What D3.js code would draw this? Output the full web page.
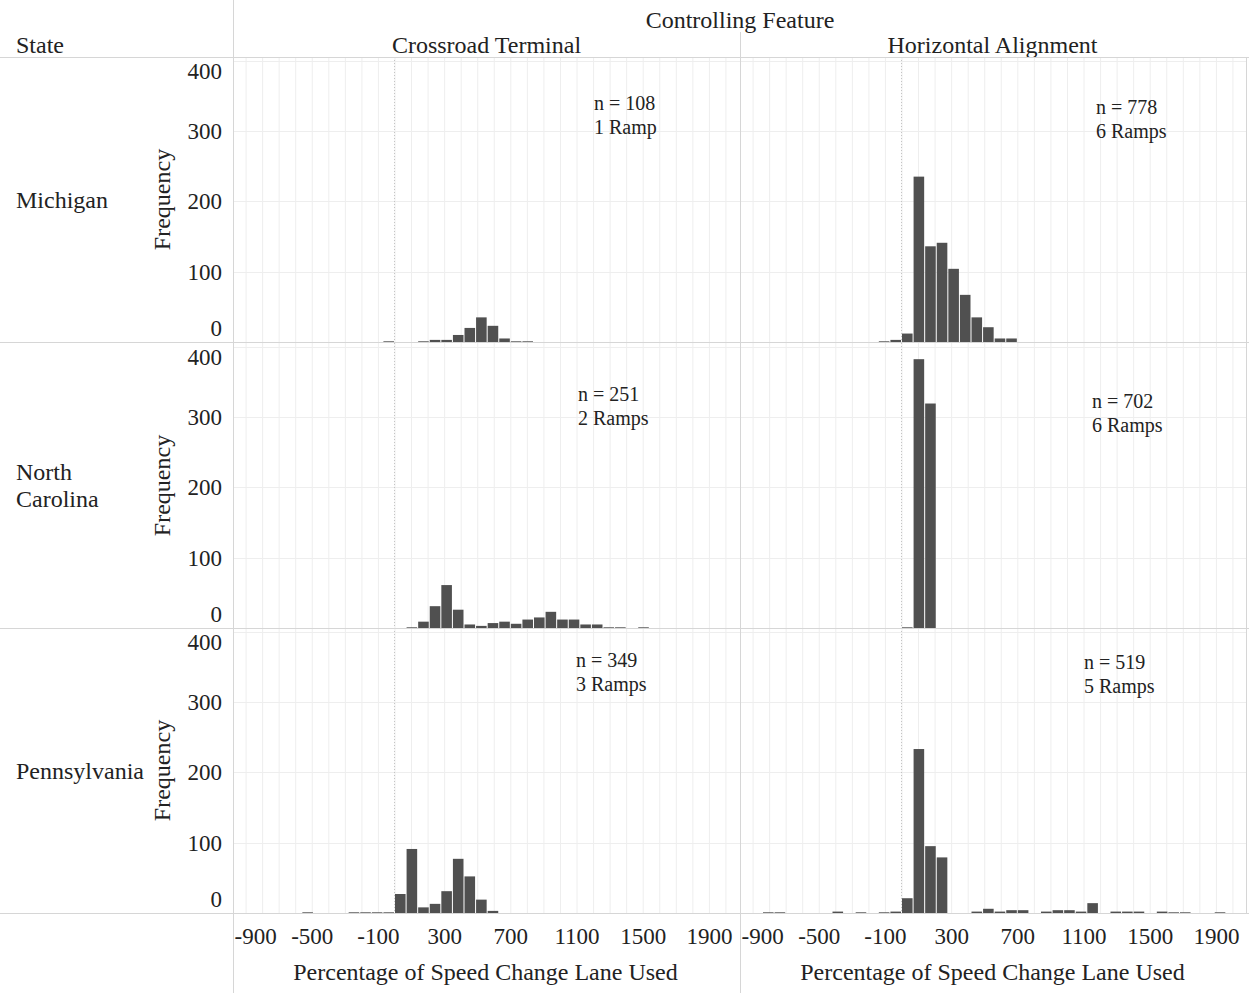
<!DOCTYPE html>
<html>
<head>
<meta charset="utf-8">
<script src="https://cdn.jsdelivr.net/npm/d3@7"></script>
<style>
  body { margin: 0; background: #fff; }
  text { font-family: "Liberation Serif", "Times New Roman", serif; fill: #222; }
</style>
</head>
<body>
<script>
// chart values
var states = ["Michigan", "North Carolina", "Pennsylvania"];
var features = ["Crossroad Terminal", "Horizontal Alignment"];
var binSize = 70;
var xTicks = [-900, -500, -100, 300, 700, 1100, 1500, 1900];
var yTicks = [0, 100, 200, 300, 400];

// [bin start (%), frequency]
var miCrossroad = [[-70,1],[140,1],[210,3],[280,3],[350,10],[420,20],[490,35],[560,23],[630,5],[700,1],[770,1]];
var miHorizontal = [[-140,1],[-70,3],[0,12],[70,235],[140,136],[210,141],[280,104],[350,67],[420,35],[490,21],[560,5],[630,5]];
var ncCrossroad = [[70,1],[140,9],[210,31],[280,61],[350,26],[420,5],[490,3],[560,7],[630,9],[700,6],[770,12],
  [840,15],[910,23],[980,12],[1050,12],[1120,5],[1190,5],[1260,1],[1330,1],[1470,1]];
var ncHorizontal = [[0,1],[70,382],[140,319]];
var paCrossroad = [[-560,1],[-280,1],[-210,1],[-140,1],[-70,1],[0,27],[70,91],[140,8],[210,13],[280,31],[350,77],[420,52],[490,19],[560,3]];
var paHorizontal = [[-840,1],[-770,1],[-420,2],[-280,1],[-140,1],[-70,2],[0,21],[70,233],[140,95],[210,79],[420,2],[490,6],[560,2],
  [630,4],[700,4],[840,2],[910,4],[980,4],[1050,2],[1120,14],[1260,2],[1330,2],[1400,2],[1540,2],[1610,1],[1680,1],[1890,1]];

var noteN = [108, 778, 251, 702, 349, 519];
var noteRamps = ["1 Ramp", "6 Ramps", "2 Ramps", "6 Ramps", "3 Ramps", "5 Ramps"];

var panels = [miCrossroad, miHorizontal, ncCrossroad, ncHorizontal, paCrossroad, paHorizontal];

// layout
var w = 1249, h = 993;
var paneX = [233, 740], paneW = 507;
var rowTop = [57, 343, 628], rowH = 285;
var notePos = [[361, 53], [356, 57], [345, 58], [352, 65], [343, 39], [344, 41]];
var lineColor = "#d6d6d6", gridColor = "#eeeeee";

var svg = d3.select("body").append("svg")
    .attr("width", w)
    .attr("height", h)

svg.append("rect").attr("width", w).attr("height", h).attr("fill", "#fff")

var xScale = d3.scaleLinear()
              .domain([-976, 2088])
              .range([0, paneW])

var yScale = d3.scaleLinear()
              .domain([0, 405])
              .range([rowH, 0])

// header
svg.append("text").text("Controlling Feature")
  .attr("x", 740).attr("y", 28).attr("text-anchor", "middle").style("font-size", "24px")
svg.append("text").text("State")
  .attr("x", 16).attr("y", 53).style("font-size", "24px")
features.forEach(function(f, c) {
  svg.append("text").text(f)
    .attr("x", paneX[c] + paneW / 2 - c).attr("y", 53)
    .attr("text-anchor", "middle").style("font-size", "24px")
})

states.forEach(function(s, r) {
  features.forEach(function(f, c) {
    var data = panels[r * 2 + c];
    var g = svg.append("g").attr("transform", "translate(" + paneX[c] + "," + rowTop[r] + ")");

    g.selectAll(".vgrid").data(d3.range(-900, 2001, 100)).enter().append("line")
      .attr("x1", function(d) { return xScale(d) + 0.5; })
      .attr("x2", function(d) { return xScale(d) + 0.5; })
      .attr("y1", 0).attr("y2", rowH)
      .attr("stroke", gridColor)

    g.selectAll(".hgrid").data(yTicks.slice(1)).enter().append("line")
      .attr("x1", 0).attr("x2", paneW)
      .attr("y1", function(d) { return Math.round(yScale(d)) + 0.5; })
      .attr("y2", function(d) { return Math.round(yScale(d)) + 0.5; })
      .attr("stroke", gridColor)

    // zero line
    g.append("line")
      .attr("x1", xScale(0)).attr("x2", xScale(0))
      .attr("y1", 0).attr("y2", rowH)
      .attr("stroke", "#c4c4c4").attr("stroke-dasharray", "1,2")

    g.selectAll("rect").data(data).enter().append("rect")
      .attr("x", function(d) { return xScale(d[0]) + 0.5; })
      .attr("width", function(d) { return xScale(d[0] + binSize) - xScale(d[0]) - 1; })
      .attr("y", function(d) { return yScale(d[1]); })
      .attr("height", function(d) { return rowH - yScale(d[1]); })
      .attr("fill", "#505050")

    var p = notePos[r * 2 + c];
    g.append("text").text("n = " + noteN[r * 2 + c])
      .attr("x", p[0]).attr("y", p[1]).style("font-size", "20px")
    g.append("text").text(noteRamps[r * 2 + c])
      .attr("x", p[0]).attr("y", p[1] + 24).style("font-size", "20px")
  })

  // y axis
  var yAxis = svg.append("g")
    .attr("transform", "translate(225," + rowTop[r] + ")")
    .call(d3.axisLeft(yScale).tickValues(yTicks).tickSize(0).tickPadding(3)
      .tickFormat(function(d) { return String(d); }))
  yAxis.select(".domain").remove()
  yAxis.selectAll("text")
    .style("font-size", "23px").style("font-family", null).attr("fill", "#222")
    .attr("y", function(d) { return d == 400 ? 11 : (d == 0 ? -14 : 0); })

  svg.append("text").text("Frequency")
    .attr("transform", "translate(170," + (rowTop[r] + rowH / 2) + ") rotate(-90)")
    .attr("text-anchor", "middle").style("font-size", "24px")

  var lines = s == "North Carolina" ? ["North", "Carolina"] : [s];
  lines.forEach(function(t, i) {
    svg.append("text").text(t)
      .attr("x", 16)
      .attr("y", rowTop[r] + rowH / 2 + 8 + (i - (lines.length - 1) / 2) * 27)
      .style("font-size", "24px")
  })
})

// x axes
paneX.forEach(function(px) {
  var xAxis = svg.append("g")
    .attr("transform", "translate(" + px + "," + (rowTop[2] + rowH) + ")")
    .call(d3.axisBottom(xScale).tickValues(xTicks).tickSize(0).tickPadding(15)
      .tickFormat(function(d) { return String(d); }))
  xAxis.select(".domain").remove()
  xAxis.selectAll("text")
    .style("font-size", "23px").style("font-family", null).attr("fill", "#222")
  // first label kept inside the pane
  xAxis.selectAll("text").filter(function(d) { return d == -900; })
    .attr("text-anchor", "start").attr("x", -xScale(-900) + 1)

  svg.append("text").text("Percentage of Speed Change Lane Used")
    .attr("x", px + paneW / 2 - 1).attr("y", 980)
    .attr("text-anchor", "middle").style("font-size", "24px")
})

// frame lines
var frame = svg.append("g").attr("stroke", lineColor).attr("fill", "none")
frame.append("line").attr("x1", 233.5).attr("x2", 233.5).attr("y1", 0).attr("y2", h)
frame.append("line").attr("x1", 740.5).attr("x2", 740.5).attr("y1", 32).attr("y2", h)
frame.append("line").attr("x1", 1246.5).attr("x2", 1246.5).attr("y1", 57).attr("y2", 913)
frame.append("line").attr("x1", 0).attr("x2", w).attr("y1", 57.5).attr("y2", 57.5)
rowTop.forEach(function(t) {
  frame.append("line").attr("x1", 0).attr("x2", w)
    .attr("y1", t + rowH + 0.5).attr("y2", t + rowH + 0.5)
})
</script>
</body>
</html>
